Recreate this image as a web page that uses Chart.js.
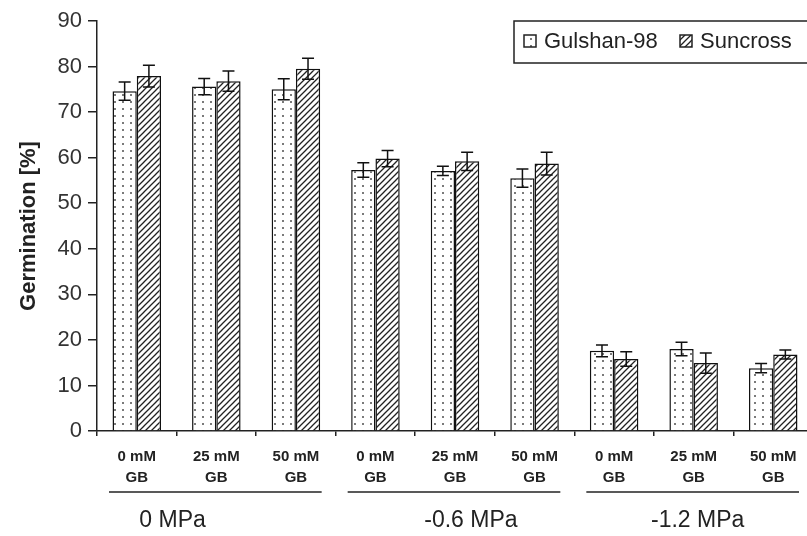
<!DOCTYPE html>
<html>
<head>
<meta charset="utf-8">
<script src="https://cdn.jsdelivr.net/npm/chart.js@4/dist/chart.umd.min.js"></script>
<style>
html,body{margin:0;padding:0;background:#fff;overflow:hidden;width:807px;height:536px;}
canvas{display:block;}
</style>
</head>
<body>
<canvas id="c" width="830" height="536"></canvas>
<script>
// ---- data ----
const categories = [["0 mM","GB"],["25 mM","GB"],["50 mM","GB"],["0 mM","GB"],["25 mM","GB"],["50 mM","GB"],["0 mM","GB"],["25 mM","GB"],["50 mM","GB"]];
const groups = ["0 MPa", "-0.6 MPa", "-1.2 MPa"];
const seriesNames = ["Gulshan-98", "Suncross"];
const gulshan = [74.6, 75.6, 75.0, 57.3, 57.1, 55.5, 17.6, 18.0, 13.8];
const gulshanErr = [2.0, 1.8, 2.3, 1.6, 1.0, 2.0, 1.3, 1.5, 1.0];
const suncross = [77.9, 76.8, 79.5, 59.8, 59.2, 58.7, 15.8, 14.9, 16.8];
const suncrossErr = [2.4, 2.2, 2.3, 1.8, 2.0, 2.5, 1.6, 2.2, 1.0];
const yTicks = [0,10,20,30,40,50,60,70,80,90];

// ---- patterns ----
function dotPattern(){
  const c = document.createElement('canvas'); c.width = 8; c.height = 7;
  const g = c.getContext('2d');
  g.fillStyle = '#fff'; g.fillRect(0,0,8,7);
  g.fillStyle = '#7a7a7a'; g.fillRect(2,3,2,2);
  return document.getElementById('c').getContext('2d').createPattern(c,'repeat');
}
function hatchPattern(){
  const s = 6;
  const c = document.createElement('canvas'); c.width = s; c.height = s;
  const g = c.getContext('2d');
  g.fillStyle = '#fff'; g.fillRect(0,0,s,s);
  g.strokeStyle = '#222'; g.lineWidth = 1.3;
  g.beginPath();
  g.moveTo(-1, s+1); g.lineTo(s+1, -1);
  g.moveTo(-1, 1); g.lineTo(1, -1);
  g.moveTo(s-1, s+1); g.lineTo(s+1, s-1);
  g.stroke();
  return document.getElementById('c').getContext('2d').createPattern(c,'repeat');
}
const dots = dotPattern();
const hatch = hatchPattern();
const errs = [gulshanErr, suncrossErr];

const errorBars = {
  id: 'errorBars',
  afterDatasetsDraw(chart){
    const ctx = chart.ctx, y = chart.scales.y;
    ctx.save();
    ctx.strokeStyle = '#111'; ctx.lineWidth = 1.5;
    chart.data.datasets.forEach((ds, i) => {
      const meta = chart.getDatasetMeta(i);
      meta.data.forEach((el, j) => {
        const v = ds.data[j], e = errs[i][j];
        const x = el.x, yt = y.getPixelForValue(v + e), yb = y.getPixelForValue(v - e);
        ctx.beginPath();
        ctx.moveTo(x, yt); ctx.lineTo(x, yb);
        ctx.moveTo(x-6, yt); ctx.lineTo(x+6, yt);
        ctx.moveTo(x-6, yb); ctx.lineTo(x+6, yb);
        ctx.stroke();
      });
    });
    ctx.restore();
  }
};

const extras = {
  id: 'extras',
  afterDraw(chart){
    const ctx = chart.ctx, xs = chart.scales.x;
    const cw = xs.width / categories.length;
    ctx.save();
    // group underlines and labels
    const labelShift = [-0.55, 0.2, 0.05];
    groups.forEach((g, k) => {
      const start = xs.left + cw * 3 * k, end = start + cw * 3;
      ctx.strokeStyle = '#222'; ctx.lineWidth = 1.5;
      ctx.beginPath(); ctx.moveTo(start + 12, 492); ctx.lineTo(end - 14, 492); ctx.stroke();
      ctx.fillStyle = '#222';
      ctx.font = '23px "Liberation Sans", Arial, sans-serif';
      ctx.textAlign = 'center'; ctx.textBaseline = 'middle';
      ctx.fillText(g, (start + end) / 2 + labelShift[k] * cw, 521);
    });
    // legend
    ctx.fillStyle = '#fff';
    ctx.fillRect(514, 21, 330, 42);
    ctx.strokeStyle = '#222'; ctx.lineWidth = 1.5;
    ctx.strokeRect(514, 21, 330, 42);
    const items = [{x: 524, fill: dots, t: seriesNames[0]}, {x: 680, fill: hatch, t: seriesNames[1]}];
    items.forEach(it => {
      ctx.fillStyle = it.fill; ctx.fillRect(it.x, 35, 12, 12);
      ctx.strokeStyle = '#222'; ctx.lineWidth = 1.5; ctx.strokeRect(it.x, 35, 12, 12);
      ctx.fillStyle = '#222';
      ctx.font = '22px "Liberation Sans", Arial, sans-serif';
      ctx.textAlign = 'left'; ctx.textBaseline = 'middle';
      ctx.fillText(it.t, it.x + 20, 42);
    });
    ctx.restore();
  }
};

new Chart(document.getElementById('c'), {
  type: 'bar',
  data: {
    labels: categories,
    datasets: [
      {label: seriesNames[0], data: gulshan, backgroundColor: dots, borderColor: '#111', borderWidth: 1.5, categoryPercentage: 0.61, barPercentage: 1.0},
      {label: seriesNames[1], data: suncross, backgroundColor: hatch, borderColor: '#111', borderWidth: 1.5, categoryPercentage: 0.61, barPercentage: 1.0}
    ]
  },
  options: {
    responsive: false,
    animation: false,
    devicePixelRatio: 1,
    layout: {padding: {top: 21, right: 17, left: 0, bottom: 0}},
    plugins: {legend: {display: false}, tooltip: {enabled: false}},
    scales: {
      x: {
        grid: {offset: true, drawOnChartArea: false, tickLength: 5, color: '#222', lineWidth: 1.5},
        border: {color: '#222', width: 1.5},
        ticks: {color: '#222', font: {family: '"Liberation Sans", Arial, sans-serif', size: 15, weight: 'bold', lineHeight: 1.4}, padding: 10, maxRotation: 0, autoSkip: false},
        afterFit(s){ s.height = 105; }
      },
      y: {
        min: 0, max: 90,
        afterBuildTicks(s){ s.ticks = yTicks.map(v => ({value: v})); },
        grid: {drawOnChartArea: false, tickLength: 9, color: '#222', lineWidth: 1.5},
        border: {color: '#222', width: 1.5},
        ticks: {color: '#333', font: {family: '"Liberation Sans", Arial, sans-serif', size: 22}, padding: 6},
        title: {display: true, text: 'Germination [%]', color: '#222', font: {family: '"Liberation Sans", Arial, sans-serif', size: 22, weight: 'bold'}, padding: {top: 16, bottom: 0}},
        afterFit(s){ s.width = 97; }
      }
    }
  },
  plugins: [errorBars, extras]
});
</script>
</body>
</html>
